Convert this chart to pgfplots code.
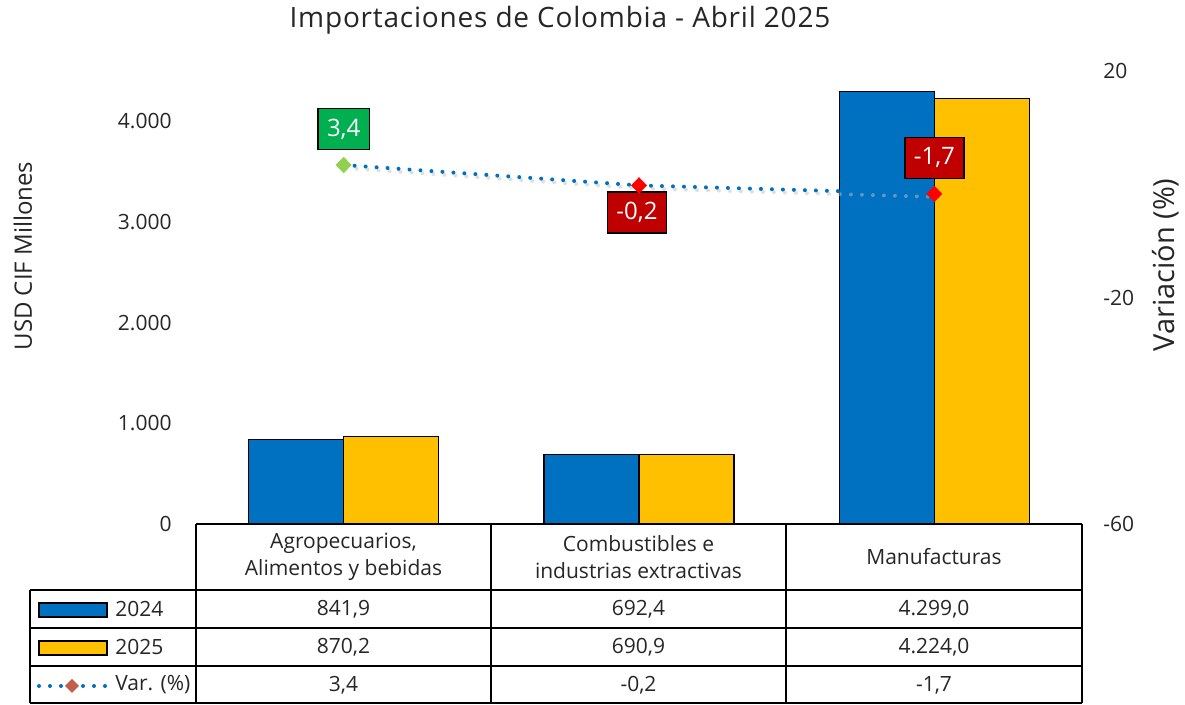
\documentclass[border=0pt]{standalone}
\usepackage{pgfplots}
\pgfplotsset{compat=1.18}
\usepackage{fontspec}
\setmainfont{Open Sans}
\newfontfamily\titlefont[LetterSpace=2.8]{Open Sans}
\definecolor{b24}{HTML}{0070C0}
\definecolor{y25}{HTML}{FFC000}
\definecolor{lgreen}{HTML}{00B050}
\definecolor{lred}{HTML}{C00000}
\definecolor{mgreen}{HTML}{92D050}
\definecolor{mred}{HTML}{FF0000}
\definecolor{mbrown}{HTML}{C0604A}
\definecolor{txt}{HTML}{262626}
\newcommand{\tf}{\fontsize{10.5}{13.5}\selectfont}
\begin{document}
\begin{tikzpicture}
\path[use as bounding box] (0pt,0pt) rectangle (592.5pt,-352.5pt);
\begin{axis}[at={(98pt,-262pt)}, anchor=south west, scale only axis,
  width=443pt, height=226.5pt, xmin=0, xmax=3, ymin=0, ymax=4500,
  ybar=0pt, bar width=47.5pt, xtick=\empty,
  ytick={0,1000,2000,3000,4000}, yticklabels={0,1.000,2.000,3.000,4.000},
  axis y line*=left, axis x line*=bottom,
  axis line style={draw=none}, major tick length=0pt, tick style={draw=none},
  yticklabel style={font=\tf, text=txt, inner sep=0pt, xshift=-12pt},
  clip=false]
\addplot[fill=b24, draw=black, line width=0.7pt] coordinates {(0.5,841.9) (1.5,692.4) (2.5,4299.0)};
\addplot[fill=y25, draw=black, line width=0.7pt] coordinates {(0.5,870.2) (1.5,690.9) (2.5,4224.0)};
\end{axis}
\begin{axis}[at={(98pt,-262pt)}, anchor=south west, scale only axis,
  width=443pt, height=226.5pt, xmin=0, xmax=3, ymin=-60, ymax=20,
  xtick=\empty, ytick={-60,-20,20}, yticklabels={-60,-20,20},
  axis y line*=right, axis x line=none,
  axis line style={draw=none}, major tick length=0pt, tick style={draw=none},
  yticklabel style={font=\tf, text=txt, inner sep=0pt, xshift=10.5pt},
  clip=false]
\addplot[color=black!25, line width=2pt, dash pattern=on 0pt off 5.5pt, line cap=round, mark=none, opacity=0.5, yshift=-1.5pt, xshift=1pt] coordinates {(0.5,3.4) (1.5,-0.2) (2.5,-1.7)};
\addplot[color=b24, line width=2pt, dash pattern=on 0pt off 5.5pt, line cap=round, mark=none] coordinates {(0.5,3.4) (1.5,-0.2) (2.5,-1.7)};
\addplot[only marks, mark=diamond*, mark size=3.8pt, mark options={fill=mgreen, draw=mgreen, xscale=1.3}] coordinates {(0.5,3.4)};
\addplot[only marks, mark=diamond*, mark size=3.8pt, mark options={fill=mred, draw=mred, xscale=1.3}] coordinates {(1.5,-0.2) (2.5,-1.7)};
\node[fill=lgreen, draw=black, line width=0.7pt, text=white, inner xsep=4.5pt, minimum height=20.5pt, font=\fontsize{12}{14}\selectfont, yshift=18pt] at (axis cs:0.5,3.4) {3,4};
\node[fill=lred, draw=black, line width=0.7pt, text=white, inner xsep=4.5pt, minimum height=20.5pt, font=\fontsize{12}{14}\selectfont, yshift=-13.5pt, xshift=-1pt] at (axis cs:1.5,-0.2) {-0,2};
\node[fill=lred, draw=black, line width=0.7pt, text=white, inner xsep=4.5pt, minimum height=20.5pt, font=\fontsize{12}{14}\selectfont, yshift=18pt] at (axis cs:2.5,-1.7) {-1,7};
\end{axis}
\begin{scope}[x=0.5pt, y=-0.5pt]
% title and axis labels
\node[font=\titlefont\fontsize{14}{16}\selectfont, text=txt] at (560,20) {Importaciones de Colombia - Abril 2025};
\node[font=\fontsize{12}{14}\selectfont, text=txt, rotate=90] at (23,256) {USD CIF Millones};
\node[font=\fontsize{14.5}{17}\selectfont, text=txt, rotate=90] at (1166,265) {Variación (\%)};
% table grid
\draw[black, line width=0.75pt] (196,524) -- (1082,524);
\draw[black, line width=0.75pt] (30,590) -- (1082,590);
\draw[black, line width=0.75pt] (30,628) -- (1082,628);
\draw[black, line width=0.75pt] (30,666) -- (1082,666);
\draw[black, line width=0.75pt] (30,703) -- (1082,703);
\draw[black, line width=0.75pt] (30,590) -- (30,703);
\foreach \xx in {196,491,786,1082} {\draw[black, line width=0.75pt] (\xx,524) -- (\xx,703);}
% header
\node[font=\tf, text=txt, align=center] at (343.5,557) {Agropecuarios,\\Alimentos y bebidas};
\node[font=\tf, text=txt, align=center] at (638.5,557) {Combustibles e\\industrias extractivas};
\node[font=\tf, text=txt] at (934,557) {Manufacturas};
% legend keys
\draw[fill=b24, draw=black, line width=0.7pt] (39,603) rectangle (107,617);
\draw[fill=y25, draw=black, line width=0.7pt] (39,641) rectangle (107,655);
\draw[color=b24, line width=2pt, dash pattern=on 0pt off 5.5pt, line cap=round] (39,686) -- (107,686);
\fill[mbrown] (72,679) -- (79,686) -- (72,693) -- (65,686) -- cycle;
\node[font=\tf, text=txt, anchor=west, inner sep=0pt] at (115,609) {2024};
\node[font=\tf, text=txt, anchor=west, inner sep=0pt] at (115,647) {2025};
\node[font=\tf, text=txt, anchor=west, inner sep=0pt] at (115,685) {Var. (\%)};
% values
\node[font=\tf, text=txt] at (343.5,609) {841,9};
\node[font=\tf, text=txt] at (638.5,609) {692,4};
\node[font=\tf, text=txt] at (934,609) {4.299,0};
\node[font=\tf, text=txt] at (343.5,647) {870,2};
\node[font=\tf, text=txt] at (638.5,647) {690,9};
\node[font=\tf, text=txt] at (934,647) {4.224,0};
\node[font=\tf, text=txt] at (343.5,685) {3,4};
\node[font=\tf, text=txt] at (638.5,685) {-0,2};
\node[font=\tf, text=txt] at (934,685) {-1,7};
\end{scope}
\end{tikzpicture}
\end{document}
